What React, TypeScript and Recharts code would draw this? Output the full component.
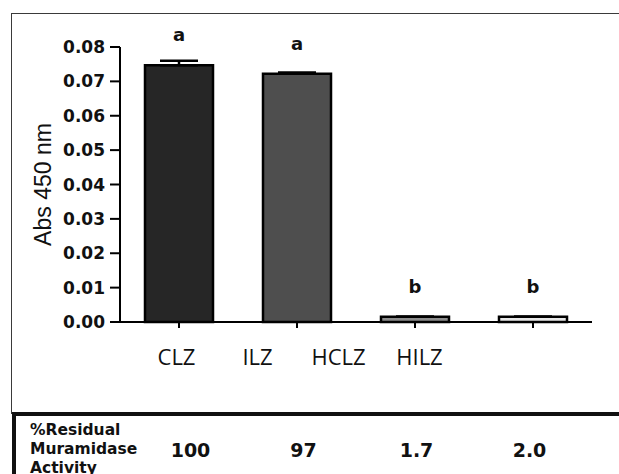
import React from "react";
import { BarChart, Bar, XAxis, YAxis, ErrorBar, Cell, LabelList, Label } from "recharts";

const categories = ["CLZ", "ILZ", "HILZ", "HCLZ-2"];
const tickLabels = ["CLZ", "ILZ", "HCLZ", "HILZ"];
const absValues = [0.0747, 0.0722, 0.0015, 0.0015];
const errUp = [0.0013, 0.0004, 0, 0];
const letters = ["a", "a", "b", "b"];
const residual = ["100", "97", "1.7", "2.0"];
const yTicks = [0, 0.01, 0.02, 0.03, 0.04, 0.05, 0.06, 0.07, 0.08];
const tableHeader = ["%Residual", "Muramidase", "Activity"];

const barColors = ["#262626", "#4e4e4e", "#8c8c8c", "#e8e8e8"];

const data = categories.map((c, i) => ({
  cat: c,
  label: tickLabels[i],
  value: absValues[i],
  err: [0, errUp[i]],
  letter: letters[i],
  residual: residual[i],
}));

export default function App() {
  return (
    <div style={{ position: "absolute", left: 0, top: 0, width: 619, height: 474, background: "#fff", overflow: "hidden" }}>
      <div style={{ position: "absolute", left: 11, top: 13, width: 620, height: 400, borderTop: "1.5px solid #3a3a3a", borderLeft: "1.5px solid #3a3a3a" }} />
      <div style={{ position: "absolute", left: 12, top: 412, width: 620, height: 80, borderTop: "4px solid #111", borderLeft: "4px solid #111" }} />
      <div style={{ position: "absolute", left: 30, top: 421, fontFamily: "DejaVu Sans", fontWeight: "bold", fontSize: 15.5, lineHeight: "19px", color: "#111", whiteSpace: "nowrap" }}>
        {tableHeader.map((t) => (
          <div key={t}>{t}</div>
        ))}
      </div>
      <div style={{ position: "absolute", left: 0, top: 0 }}>
        <BarChart width={619} height={474} data={data} margin={{ top: 47, right: 27, left: 0, bottom: 0 }}>
          <XAxis
            dataKey="cat"
            xAxisId={0}
            height={10}
            tickSize={6}
            tickFormatter={() => ""}
            axisLine={{ stroke: "#000", strokeWidth: 2 }}
            tickLine={{ stroke: "#000", strokeWidth: 2 }}
          />
          <XAxis
            dataKey="label"
            xAxisId="lbl"
            height={80}
            axisLine={false}
            tickLine={false}
            tickSize={0}
            tickMargin={17}
            interval={0}
            padding={{ left: 16, right: 132 }}
            tick={{ fontFamily: "Open Sans", fontSize: 22, fill: "#111" }}
          />
          <XAxis
            dataKey="residual"
            xAxisId="tbl"
            height={62}
            axisLine={false}
            tickLine={false}
            tickSize={0}
            tickMargin={32}
            interval={0}
            padding={{ left: 14, right: 6 }}
            tick={{ fontFamily: "DejaVu Sans", fontWeight: "bold", fontSize: 19, fill: "#111" }}
          />
          <YAxis
            width={120}
            domain={[0, 0.08]}
            ticks={yTicks}
            interval={0}
            tickSize={10}
            tickMargin={5}
            tickFormatter={(v: number) => v.toFixed(2)}
            axisLine={{ stroke: "#000", strokeWidth: 2 }}
            tickLine={{ stroke: "#000", strokeWidth: 2 }}
            tick={{ fontFamily: "DejaVu Sans", fontWeight: "bold", fontSize: 17, fill: "#111" }}
          >
            <Label
              value="Abs 450 nm"
              angle={-90}
              position="center"
              dx={-17}
              style={{ fontFamily: "Liberation Sans", fontSize: 23, fill: "#111", textAnchor: "middle" }}
            />
          </YAxis>
          <Bar dataKey="value" xAxisId={0} barSize={68} stroke="#000" strokeWidth={2.5} isAnimationActive={false}>
            {data.map((d, i) => (
              <Cell key={d.cat} fill={barColors[i]} />
            ))}
            <ErrorBar dataKey="err" width={19} stroke="#000" strokeWidth={2.5} direction="y" isAnimationActive={false} />
            <LabelList
              dataKey="letter"
              position="top"
              offset={24}
              style={{ fontFamily: "DejaVu Sans", fontWeight: "bold", fontSize: 18, fill: "#111" }}
            />
          </Bar>
        </BarChart>
      </div>
    </div>
  );
}
